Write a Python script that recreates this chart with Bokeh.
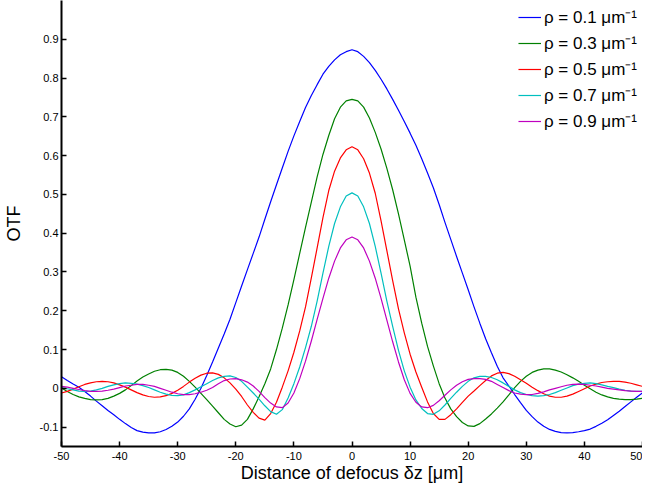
from bokeh.plotting import figure
from bokeh.models import Range1d, FixedTicker, Legend, LegendItem
from bokeh.embed import file_html
from bokeh.resources import INLINE

# defocus positions (um), 1 um sampling
defocus = list(range(-50, 51))

otf_rho01 = [
    0.030, 0.020, 0.011, 0.003, -0.008, -0.020, -0.033, -0.045, -0.057, -0.068,
    -0.080, -0.091, -0.101, -0.109, -0.113, -0.115, -0.115, -0.112, -0.106, -0.098,
    -0.087, -0.072, -0.053, -0.028, 0.000, 0.033, 0.068, 0.104, 0.140, 0.178,
    0.221, 0.264, 0.306, 0.348, 0.390, 0.436, 0.481, 0.525, 0.568, 0.611,
    0.651, 0.688, 0.724, 0.755, 0.783, 0.810, 0.830, 0.847, 0.860, 0.868,
    0.873,
    0.868, 0.856, 0.840, 0.820, 0.797, 0.772, 0.745, 0.717, 0.688, 0.658,
    0.627, 0.592, 0.555, 0.517, 0.474, 0.428, 0.384, 0.340, 0.297, 0.254,
    0.210, 0.168, 0.128, 0.092, 0.057, 0.027, 0.006, -0.016, -0.037, -0.057,
    -0.073, -0.087, -0.098, -0.106, -0.111, -0.114, -0.115, -0.114, -0.112, -0.109,
    -0.105, -0.098, -0.090, -0.081, -0.070, -0.059, -0.047, -0.035, -0.023, -0.012,
]

otf_rho03 = [
    0.001, -0.008, -0.016, -0.022, -0.026, -0.029, -0.030, -0.029, -0.026, -0.020,
    -0.013, -0.004, 0.007, 0.019, 0.029, 0.037, 0.044, 0.048, 0.049, 0.047,
    0.041, 0.031, 0.018, 0.003, -0.013, -0.029, -0.046, -0.063, -0.080, -0.092,
    -0.099, -0.095, -0.080, -0.053, -0.022, 0.012, 0.050, 0.100, 0.155, 0.215,
    0.280, 0.348, 0.415, 0.480, 0.545, 0.603, 0.652, 0.695, 0.725, 0.741,
    0.745,
    0.741, 0.725, 0.697, 0.660, 0.617, 0.567, 0.512, 0.450, 0.383, 0.315,
    0.235, 0.168, 0.108, 0.058, 0.012, -0.025, -0.053, -0.073, -0.088, -0.097,
    -0.098, -0.091, -0.079, -0.066, -0.051, -0.035, -0.017, 0.002, 0.018, 0.031,
    0.041, 0.047, 0.050, 0.050, 0.047, 0.042, 0.035, 0.027, 0.018, 0.008,
    -0.001, -0.010, -0.017, -0.022, -0.026, -0.028, -0.029, -0.029, -0.028, -0.026,
]

otf_rho05 = [
    -0.012, -0.008, -0.002, 0.004, 0.010, 0.014, 0.017, 0.018, 0.017, 0.014,
    0.009, 0.003, -0.004, -0.011, -0.017, -0.021, -0.023, -0.022, -0.019, -0.013,
    -0.005, 0.005, 0.016, 0.026, 0.034, 0.039, 0.040, 0.036, 0.027, 0.014,
    -0.002, -0.021, -0.043, -0.062, -0.077, -0.082, -0.065, -0.036, 0.003, 0.045,
    0.093, 0.148, 0.210, 0.285, 0.362, 0.440, 0.510, 0.560, 0.594, 0.615,
    0.623,
    0.615, 0.592, 0.555, 0.503, 0.432, 0.355, 0.278, 0.205, 0.143, 0.088,
    0.042, 0.003, -0.035, -0.065, -0.080, -0.080, -0.068, -0.053, -0.036, -0.020,
    -0.007, 0.007, 0.020, 0.032, 0.039, 0.041, 0.038, 0.031, 0.022, 0.013,
    0.003, -0.006, -0.014, -0.020, -0.023, -0.023, -0.020, -0.015, -0.008, -0.001,
    0.006, 0.011, 0.015, 0.017, 0.018, 0.018, 0.016, 0.013, 0.009, 0.005,
]

otf_rho07 = [
    0.002, -0.001, -0.004, -0.007, -0.008, -0.007, -0.004, 0.000, 0.005, 0.009,
    0.012, 0.014, 0.013, 0.011, 0.007, 0.002, -0.004, -0.010, -0.015, -0.018,
    -0.019, -0.017, -0.011, -0.004, 0.004, 0.012, 0.020, 0.027, 0.031, 0.032,
    0.028, 0.018, 0.003, -0.012, -0.028, -0.045, -0.060, -0.067, -0.055, -0.025,
    0.012, 0.055, 0.105, 0.160, 0.225, 0.297, 0.366, 0.425, 0.468, 0.496,
    0.504,
    0.496, 0.468, 0.425, 0.366, 0.297, 0.225, 0.160, 0.098, 0.045, 0.003,
    -0.030, -0.052, -0.065, -0.067, -0.058, -0.043, -0.026, -0.010, 0.005, 0.018,
    0.027, 0.031, 0.031, 0.028, 0.022, 0.014, 0.005, -0.004, -0.011, -0.016,
    -0.019, -0.020, -0.019, -0.016, -0.011, -0.005, 0.001, 0.007, 0.011, 0.013,
    0.014, 0.012, 0.009, 0.005, 0.002, -0.002, -0.005, -0.007, -0.008, -0.008,
]

otf_rho09 = [
    0.005, 0.003, 0.000, -0.003, -0.006, -0.008, -0.008, -0.007, -0.005, -0.002,
    0.002, 0.006, 0.008, 0.010, 0.010, 0.008, 0.005, 0.000, -0.005, -0.010,
    -0.014, -0.016, -0.016, -0.014, -0.010, -0.005, 0.002, 0.012, 0.020, 0.024,
    0.025, 0.022, 0.016, 0.006, -0.008, -0.024, -0.038, -0.048, -0.050, -0.038,
    -0.012, 0.025, 0.070, 0.122, 0.178, 0.232, 0.284, 0.328, 0.362, 0.383,
    0.390,
    0.383, 0.362, 0.328, 0.284, 0.232, 0.176, 0.120, 0.068, 0.022, -0.013,
    -0.036, -0.048, -0.050, -0.044, -0.032, -0.018, -0.004, 0.008, 0.017, 0.023,
    0.025, 0.025, 0.023, 0.018, 0.010, 0.002, -0.006, -0.012, -0.015, -0.016,
    -0.016, -0.013, -0.009, -0.004, 0.000, 0.004, 0.008, 0.010, 0.011, 0.010,
    0.008, 0.006, 0.003, 0.000, -0.002, -0.004, -0.006, -0.007, -0.008, -0.008,
]

series = [otf_rho01, otf_rho03, otf_rho05, otf_rho07, otf_rho09]
labels = ["ρ = 0.1 μm⁻¹", "ρ = 0.3 μm⁻¹", "ρ = 0.5 μm⁻¹", "ρ = 0.7 μm⁻¹", "ρ = 0.9 μm⁻¹"]
colors = ["#0000FF", "#008000", "#FF0000", "#00BFBF", "#BF00BF"]

x_ticks = [-50, -40, -30, -20, -10, 0, 10, 20, 30, 40, 50]
x_tick_labels = ["-50", "-40", "-30", "-20", "-10", "0", "10", "20", "30", "40", "50"]
y_ticks = [-0.1, 0, 0.1, 0.2, 0.3, 0.4, 0.5, 0.6, 0.7, 0.8, 0.9]
y_tick_labels = ["-0.1", "0", "0.1", "0.2", "0.3", "0.4", "0.5", "0.6", "0.7", "0.8", "0.9"]

FONT = "Liberation Sans"

p = figure(width=642, height=485,
           x_range=Range1d(-50, 50), y_range=Range1d(-0.15, 1.0),
           output_backend="svg", toolbar_location=None,
           min_border_left=60, min_border_right=0,
           min_border_top=0, min_border_bottom=38)
p.outline_line_color = None
p.grid.visible = False
p.background_fill_color = "white"
p.border_fill_color = "white"

items = []
for ys, lab, col in zip(series, labels, colors):
    r = p.line(defocus, ys, line_color=col, line_width=1.2)
    items.append(LegendItem(label=lab, renderers=[r]))

legend = Legend(items=items, location="top_right")
legend.margin = 5
legend.padding = 0
legend.spacing = 3
legend.glyph_width = 23
legend.glyph_height = 20
legend.label_height = 20
legend.label_standoff = 3
legend.label_text_font = FONT
legend.label_text_font_size = "17px"
legend.label_text_color = "black"
legend.border_line_color = None
legend.background_fill_alpha = 0
p.add_layout(legend)

for ax in (p.xaxis[0], p.yaxis[0]):
    ax.axis_line_color = "black"
    ax.axis_line_width = 2
    ax.major_tick_line_color = "black"
    ax.major_tick_line_width = 1.5
    ax.major_tick_in = 5
    ax.major_tick_out = 0
    ax.minor_tick_line_color = None
    ax.major_label_text_font = FONT
    ax.major_label_text_font_size = "11px"
    ax.major_label_text_color = "black"
    ax.axis_label_text_font = FONT
    ax.axis_label_text_font_size = "18px"
    ax.axis_label_text_font_style = "normal"
    ax.axis_label_text_color = "black"

p.xaxis.ticker = FixedTicker(ticks=x_ticks)
p.xaxis.major_label_overrides = dict(zip(x_ticks, x_tick_labels))
p.xaxis.major_label_standoff = 5
p.xaxis.axis_label = "Distance of defocus δz [μm]"
p.xaxis.axis_label_standoff = 0

p.yaxis.ticker = FixedTicker(ticks=y_ticks)
p.yaxis.major_label_overrides = dict(zip(y_ticks, y_tick_labels))
p.yaxis.major_label_standoff = 3
p.yaxis.axis_label = "OTF"
p.yaxis.axis_label_standoff = 13

open("out.html", "w").write(file_html(p, INLINE))
